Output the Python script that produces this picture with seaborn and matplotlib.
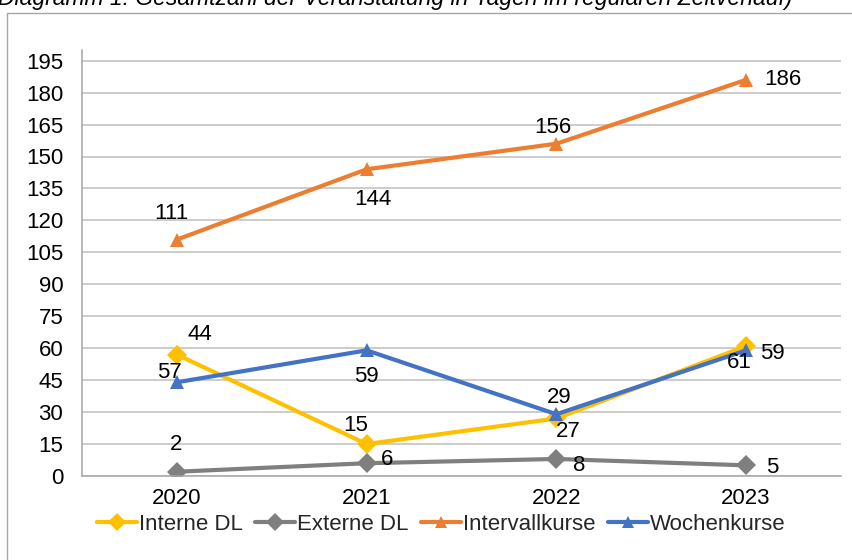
import matplotlib
matplotlib.use("Agg")
import matplotlib.pyplot as plt
from matplotlib.patches import Rectangle
from matplotlib.lines import Line2D
import seaborn as sns
import pandas as pd

years = ["2020", "2021", "2022", "2023"]
series_names = ["Interne DL", "Externe DL", "Intervallkurse", "Wochenkurse"]
interne = [57, 15, 27, 61]
externe = [2, 6, 8, 5]
intervall = [111, 144, 156, 186]
wochen = [44, 59, 29, 59]
# data label texts as shown in the reference
labels_interne = ["44", "15", "27", "61"]
labels_externe = ["2", "6", "8", "5"]
labels_intervall = ["111", "144", "156", "186"]
labels_wochen = ["57", "59", "29", "59"]
yticks = list(range(0, 196, 15))
title = "Diagramm 1: Gesamtzahl der Veranstaltung in Tagen im regulären Zeitverlauf)"

colors = {"Interne DL": "#FFC000", "Externe DL": "#7F7F7F",
          "Intervallkurse": "#ED7D31", "Wochenkurse": "#4472C4"}
markers = {"Interne DL": "D", "Externe DL": "D",
           "Intervallkurse": "^", "Wochenkurse": "^"}

sns.set_theme(style="white")
plt.rcParams["font.family"] = ["Liberation Sans", "DejaVu Sans"]
FS = 16

values = {"Interne DL": interne, "Externe DL": externe,
          "Intervallkurse": intervall, "Wochenkurse": wochen}
label_texts = {"Interne DL": labels_interne, "Externe DL": labels_externe,
               "Intervallkurse": labels_intervall, "Wochenkurse": labels_wochen}
rows = []
for s in series_names:
    for y, v in zip(years, values[s]):
        rows.append({"Jahr": y, "Wert": v, "Serie": s})
df = pd.DataFrame(rows)

fig = plt.figure(figsize=(8.53, 5.60), dpi=100)
ax = fig.add_axes([82 / 853, 84 / 560, (841 - 82) / 853, 426 / 560])

sns.lineplot(data=df, x="Jahr", y="Wert", hue="Serie", style="Serie",
             hue_order=series_names, style_order=series_names,
             palette=colors, markers=markers, dashes=False,
             linewidth=3.0, markersize=10, markeredgewidth=0,
             ax=ax, legend=False, sort=False)

ax.set_xlim(-0.5, 3.5)
ax.set_ylim(0, 200)
ax.set_yticks(yticks)
ax.set_yticklabels([str(t) for t in yticks], fontsize=FS, color="black")
ax.set_xticks(range(len(years)))
ax.set_xticklabels(years, fontsize=FS, color="black")
ax.set_xticks([-0.5, 0.5, 1.5, 2.5, 3.5], minor=True)
ax.tick_params(axis="x", which="major", length=0, pad=9)
ax.tick_params(axis="x", which="minor", length=4.5, width=1, color="#A6A6A6", direction="out")
ax.tick_params(axis="y", which="major", length=4.5, width=1, color="#A6A6A6", direction="out", pad=9)
ax.set_xlabel("")
ax.set_ylabel("")
ax.yaxis.grid(True, color="#BFBFBF", linewidth=1.1)
ax.xaxis.grid(False)
ax.set_axisbelow(True)
for side in ["top", "right"]:
    ax.spines[side].set_visible(False)
for side in ["left", "bottom"]:
    ax.spines[side].set_color("#A6A6A6")
    ax.spines[side].set_linewidth(1.1)

# data labels (offsets in pixels)
offsets = {
    "Interne DL": [(23, 20), (-11, 19), (12, -13), (-7, -16)],
    "Externe DL": [(-1, 27), (20, 4), (23, -7), (26, -2)],
    "Intervallkurse": [(-6, 26), (6, -30), (-4, 16), (37, 0)],
    "Wochenkurse": [(-7, 10), (0, -26), (3, 17), (26, -3)],
}
for s in series_names:
    for i, (v, t) in enumerate(zip(values[s], label_texts[s])):
        dx, dy = offsets[s][i]
        ax.annotate(t, (i, v), xytext=(dx, dy), textcoords="offset pixels",
                    ha="center", va="center", fontsize=FS, color="black")

# legend
handles = [Line2D([0], [0], color=colors[s], marker=markers[s], linewidth=3.0,
                  markersize=9, markeredgewidth=0) for s in series_names]
fig.legend(handles, series_names, loc="center", bbox_to_anchor=(441 / 853, 1 - 524 / 560),
           ncol=4, frameon=False, fontsize=FS, handlelength=1.8, handletextpad=0.1,
           columnspacing=0.55, borderpad=0)

# outer chart frame (extends beyond the image)
fig.patches.append(Rectangle((7 / 853, -0.1), 1.2, 1 - 13 / 560 + 0.1,
                             transform=fig.transFigure, fill=False,
                             edgecolor="#A6A6A6", linewidth=1.0))

# clipped title at the very top
fig.text(-2 / 853, 1 - 5 / 560, title, fontsize=16.5, style="italic",
         ha="left", va="baseline", color="black")

fig.savefig("out.png", dpi=100)
